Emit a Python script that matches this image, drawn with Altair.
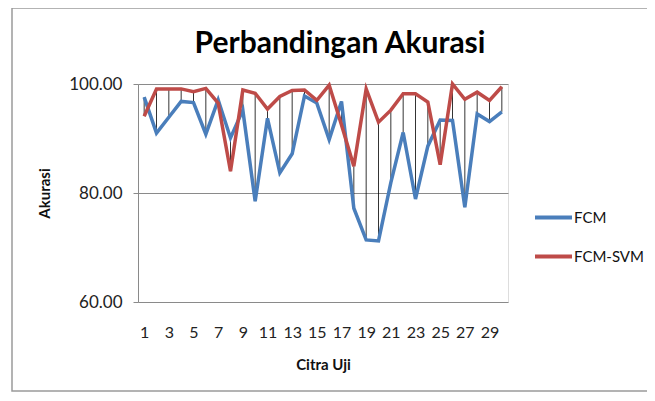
import altair as alt
import pandas as pd

citra = list(range(1, 31))
fcm = [97.6, 91.0, 93.9, 96.8, 96.6, 90.8, 97.1, 90.1, 95.2, 78.5,
       93.7, 83.7, 87.2, 97.8, 96.5, 89.8, 96.8, 77.2, 71.4, 71.2,
       81.9, 91.1, 78.9, 88.6, 93.4, 93.3, 77.4, 94.5, 93.1, 94.9]
fcm_svm = [94.1, 99.1, 99.1, 99.1, 98.6, 99.2, 96.5, 84.0, 98.9, 98.3,
           95.4, 97.7, 98.8, 98.9, 97.0, 99.8, 92.5, 84.9, 99.1, 93.0,
           95.2, 98.2, 98.2, 96.7, 85.2, 100.0, 97.2, 98.5, 97.0, 99.5]
series_names = ["FCM", "FCM-SVM"]
series_colors = ["#4A7EBB", "#BE4B48"]
x_ticks = list(range(1, 30, 2))
y_ticks = [60, 80, 100]
title_text = "Perbandingan Akurasi"

FONT = "Lato"

wide = pd.DataFrame({"Citra": citra, "FCM": fcm, "FCM-SVM": fcm_svm})
long = pd.concat([
    pd.DataFrame({"Citra": citra, "Akurasi": fcm, "Seri": "FCM"}),
    pd.DataFrame({"Citra": citra, "Akurasi": fcm_svm, "Seri": "FCM-SVM"}),
])

xscale = alt.Scale(domain=[0.5, 30.5], nice=False, zero=False)
yscale = alt.Scale(domain=[60, 100], nice=False, zero=False)

x_axis = alt.Axis(values=x_ticks, title="Citra Uji", grid=False, ticks=False,
                  domain=False, labelFont=FONT, labelFontSize=16,
                  labelColor="#222222", labelPadding=22, labelOverlap=False,
                  labelSeparation=0,
                  titleFont=FONT, titleFontSize=15, titleFontWeight="bold",
                  titleColor="#111111", titlePadding=17, labelFlush=False)
y_axis = alt.Axis(values=y_ticks, format=".2f", title="Akurasi",
                  grid=True, gridColor="#8a8a8a", gridWidth=1,
                  domainColor="#8a8a8a", tickColor="#8a8a8a", tickSize=5,
                  labelFont=FONT, labelFontSize=17, labelColor="#222222",
                  labelPadding=11,
                  titleFont=FONT, titleFontSize=15, titleFontWeight="bold",
                  titleColor="#111111", titlePadding=16)

one = pd.DataFrame({"a": [0]})

frame = alt.Chart(one).mark_rect(
    fill=None, stroke="#9a9a9a", strokeWidth=1.5
).encode(
    x=alt.value(-126), x2=alt.value(560), y=alt.value(-76), y2=alt.value(307)
)

title = alt.Chart(one).mark_text(
    text=title_text, font=FONT, fontSize=30, fontWeight="bold", color="#000000",
    align="center", baseline="alphabetic"
).encode(x=alt.value(202), y=alt.value(-31))

drops = alt.Chart(wide).mark_rule(color="#000000", strokeWidth=0.8).encode(
    x=alt.X("Citra:Q", scale=xscale, axis=x_axis),
    y=alt.Y("FCM:Q", scale=yscale, axis=y_axis),
    y2="FCM-SVM:Q",
)

lines = alt.Chart(long).mark_line(strokeWidth=3.5).encode(
    x=alt.X("Citra:Q", scale=xscale, axis=x_axis),
    y=alt.Y("Akurasi:Q", scale=yscale, axis=y_axis),
    color=alt.Color("Seri:N",
                    scale=alt.Scale(domain=series_names, range=series_colors),
                    legend=alt.Legend(orient="none", legendX=395, legendY=113,
                                      title=None, symbolType="stroke",
                                      symbolSize=1369, symbolStrokeWidth=4,
                                      labelFont=FONT, labelFontSize=15,
                                      labelColor="#111111", labelOffset=0,
                                      rowPadding=10)),
    order=alt.Order("Citra:Q"),
)

chart = alt.layer(frame, title, drops, lines).properties(
    width=370, height=218,
    autosize=alt.AutoSizeParams(type="none"),
    padding={"left": 130, "top": 76, "right": 139, "bottom": 91},
).configure_view(stroke=None).configure(background="white")

chart.save("out.html", embed_options={"renderer": "svg", "actions": False})
